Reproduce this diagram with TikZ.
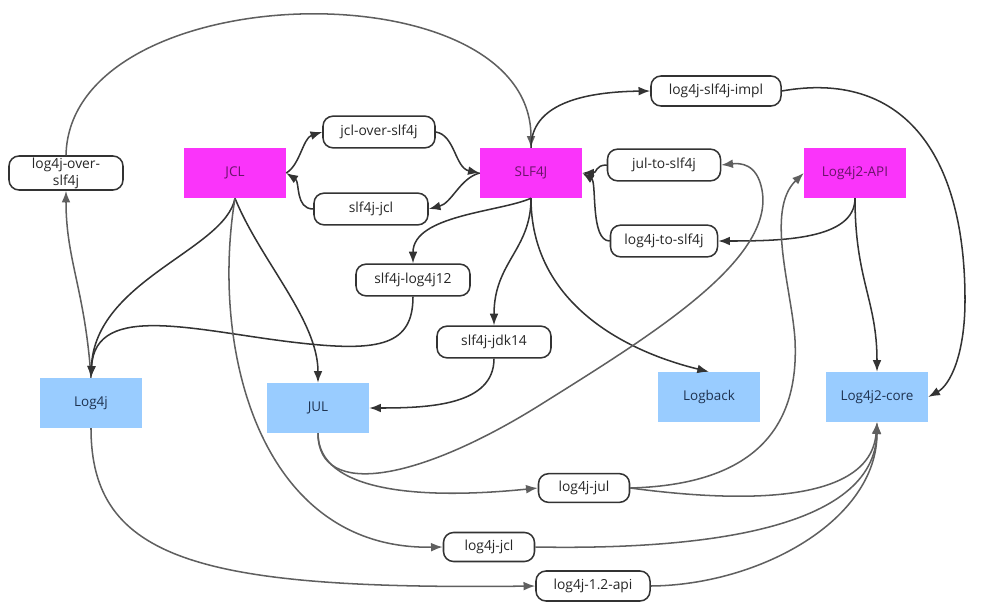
\documentclass[tikz,border=0pt]{standalone}
\usepackage{fontspec}
\setmainfont{Open Sans}
\usetikzlibrary{arrows.meta}

\definecolor{magfill}{RGB}{250,52,250}
\definecolor{bluefill}{RGB}{153,204,255}
\definecolor{magtext}{RGB}{105,20,105}
\definecolor{bluetext}{RGB}{30,50,80}
\definecolor{darkline}{RGB}{51,51,51}
\definecolor{greyline}{RGB}{95,95,95}

\tikzset{
  magbox/.style={fill=magfill, text=magtext, minimum width=3.06cm, minimum height=1.5cm, font=\fontsize{11.5}{13}\selectfont},
  bluebox/.style={fill=bluefill, text=bluetext, minimum width=3.06cm, minimum height=1.5cm, font=\fontsize{11.5}{13}\selectfont},
  bridge/.style={draw=darkline, line width=1.3pt, rounded corners=0.3cm, fill=white, text=black!85,
    minimum width=3.42cm, minimum height=0.95cm, inner sep=0pt, align=center, font=\fontsize{11.8}{14.5}\selectfont},
  link/.style={draw=darkline, line width=1.3pt, -{Latex[length=10pt,width=7.5pt]}},
  glink/.style={draw=greyline, line width=1.3pt, -{Latex[length=10pt,width=7.5pt]}}
}

\begin{document}
\begin{tikzpicture}[x=0.03cm, y=-0.03cm]
    \useasboundingbox (0,0) rectangle (985,614);

    % 1. Các khối chính (API và cài đặt)
    \node[magbox] (jcl) at (235,173) {JCL};
    \node[magbox] (slf) at (531,173) {SLF4J};
    \node[magbox] (lapi) at (855,173) {Log4j2-API};
    \node[bluebox] (log4j) at (91,403) {Log4j};
    \node[bluebox] (jul) at (318,408) {JUL};
    \node[bluebox] (logback) at (709,397) {Logback};
    \node[bluebox] (lcore) at (877,397) {Log4j2-core};

    % 2. Các khối cầu nối (bo góc)
    \node[bridge, minimum height=1.02cm] (los) at (66,173) {log4j-over-\\slf4j};
    \node[bridge, minimum width=3.36cm] (jos) at (379,132) {jcl-over-slf4j};
    \node[bridge] (sjcl) at (371,209) {slf4j-jcl};
    \node[bridge, minimum width=3.9cm, minimum height=0.9cm] (impl) at (716,91) {log4j-slf4j-impl};
    \node[bridge, minimum width=3.39cm] (jts) at (664,165) {jul-to-slf4j};
    \node[bridge, minimum width=3.21cm] (lts) at (664,241) {log4j-to-slf4j};
    \node[bridge] (slog) at (413,280) {slf4j-log4j12};
    \node[bridge] (sjdk) at (494,342) {slf4j-jdk14};
    \node[bridge, minimum width=2.73cm, minimum height=0.86cm] (ljul) at (584,488) {log4j-jul};
    \node[bridge, minimum width=2.73cm, minimum height=0.87cm] (ljcl) at (489,547) {log4j-jcl};
    \node[bridge, minimum height=0.9cm] (lapi12) at (593,586) {log4j-1.2-api};

    % 3. Quanh JCL và SLF4J
    \draw[glink] (los.north) .. controls (70,-25) and (531,-35) .. (slf.north);
    \draw[glink] (log4j.north) .. controls (85,290) and (66,260) .. (los.south);
    \draw[link] (jcl.east) .. controls (300,165) and (303,138) .. (jos.west);
    \draw[link] (jos.east) .. controls (455,135) and (455,168) .. (slf.west);
    \draw[link] (slf.west) .. controls (460,178) and (452,203) .. (sjcl.east);
    \draw[link] (sjcl.west) .. controls (295,209) and (300,182) .. (jcl.east);
    \draw[link] (slf.north) .. controls (531,110) and (570,92) .. (impl.west);
    \draw[link] (impl.east) .. controls (900,70) and (965,150) .. (965,300)
                .. controls (965,355) and (950,385) .. (lcore.east);
    \draw[link] (jts.west) .. controls (595,165) and (597,173) .. (slf.east);
    \draw[link] (lts.west) .. controls (590,241) and (597,182) .. (slf.east);
    \draw[link] (lapi.south) .. controls (855,240) and (780,241) .. (lts.east);
    \draw[link] (lapi.south) .. controls (855,280) and (877,300) .. (lcore.north);

    % 4. Từ SLF4J xuống các cài đặt
    \draw[link] (slf.south) .. controls (500,212) and (413,215) .. (slog.north);
    \draw[link] (slf.south) .. controls (531,250) and (494,262) .. (sjdk.north);
    \draw[link] (slf.south) .. controls (531,300) and (620,350) .. (logback.north);
    \draw[link] (slog.south) .. controls (413,345) and (380,352) .. (300,343)
                .. controls (200,332) and (95,300) .. (log4j.north);
    \draw[link] (sjdk.south) .. controls (494,405) and (430,408) .. (jul.east);

    % 5. Từ JCL xuống
    \draw[link] (jcl.south) .. controls (260,260) and (318,320) .. (jul.north);
    \draw[link] (jcl.south) .. controls (225,250) and (95,280) .. (log4j.north);
    \draw[glink] (jcl.south) .. controls (210,350) and (260,550) .. (ljcl.west);

    % 6. Từ JUL và Log4j
    \draw[glink] (jul.south) .. controls (318,492) and (420,500) .. (ljul.west);
    \draw[glink] (jul.south) .. controls (318,500) and (420,480) .. (540,405)
                .. controls (650,336) and (775,260) .. (762,190)
                .. controls (757,163) and (740,163) .. (jts.east);
    \draw[glink] (log4j.south) .. controls (91,560) and (200,590) .. (lapi12.west);

    % 7. Các cầu nối log4j-* về Log4j2
    \draw[glink] (ljul.east) .. controls (740,485) and (800,440) .. (795,340)
                .. controls (792,290) and (765,210) .. (lapi.west);
    \draw[glink] (ljul.east) .. controls (720,500) and (870,510) .. (lcore.south);
    \draw[glink] (ljcl.east) .. controls (700,550) and (875,530) .. (lcore.south);
    \draw[glink] (lapi12.east) .. controls (760,585) and (877,520) .. (lcore.south);

\end{tikzpicture}
\end{document}
